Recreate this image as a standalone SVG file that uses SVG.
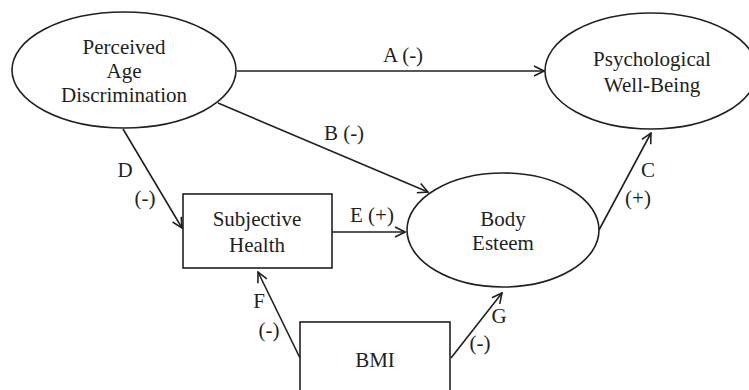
<svg xmlns="http://www.w3.org/2000/svg" width="749" height="390" viewBox="0 0 749 390">
<defs>
<marker id="arr" viewBox="0 0 12 12" refX="11" refY="6" markerWidth="12" markerHeight="12" markerUnits="userSpaceOnUse" orient="auto">
<path d="M1,1 L11,6 L1,11" fill="none" stroke="#231f20" stroke-width="1.6"/>
</marker>
<style>
.n{fill:#fff;stroke:#231f20;stroke-width:1.6}
.t{font-family:"Liberation Serif","Times New Roman",serif;font-size:21px;fill:#231f20;text-anchor:middle}
.c{stroke:#231f20;stroke-width:1.6;fill:none;marker-end:url(#arr)}
</style>
</defs>
<rect width="749" height="390" fill="#fff"/>
<g id="connectors">
<line class="c" x1="237" y1="71" x2="544" y2="71"/>
<line class="c" x1="218" y1="103" x2="428" y2="192"/>
<line class="c" x1="123" y1="129" x2="182" y2="228"/>
<line class="c" x1="332" y1="232" x2="405" y2="232"/>
<line class="c" x1="599" y1="230" x2="651" y2="133"/>
<line class="c" x1="300" y1="358" x2="258" y2="272"/>
<line class="c" x1="451" y1="358" x2="502" y2="293"/>
<text class="t" x="403" y="62">A (-)</text>
<text class="t" x="344" y="140">B (-)</text>
<text class="t" x="125" y="177">D</text>
<text class="t" x="145" y="205">(-)</text>
<text class="t" x="372" y="222">E (+)</text>
<text class="t" x="648" y="177">C</text>
<text class="t" x="638" y="205">(+)</text>
<text class="t" x="259" y="308">F</text>
<text class="t" x="269" y="337">(-)</text>
<text class="t" x="499" y="323">G</text>
<text class="t" x="480" y="350">(-)</text>
</g>
<g id="perceived">
<ellipse class="n" cx="124" cy="70" rx="112" ry="58"/>
<text class="t" x="124" y="54">Perceived</text>
<text class="t" x="124" y="78">Age</text>
<text class="t" x="124" y="102">Discrimination</text>
</g>
<g id="psych">
<ellipse class="n" cx="651" cy="71" rx="106" ry="58"/>
<text class="t" x="652" y="66">Psychological</text>
<text class="t" x="652" y="92">Well-Being</text>
</g>
<g id="subjective">
<rect class="n" x="183" y="194" width="149" height="74"/>
<text class="t" x="257" y="226">Subjective</text>
<text class="t" x="257" y="252">Health</text>
</g>
<g id="body">
<ellipse class="n" cx="503" cy="230" rx="96" ry="57"/>
<text class="t" x="503" y="226">Body</text>
<text class="t" x="503" y="250">Esteem</text>
</g>
<g id="bmi">
<rect class="n" x="300" y="322" width="150" height="80"/>
<text class="t" x="375" y="367">BMI</text>
</g>
</svg>
